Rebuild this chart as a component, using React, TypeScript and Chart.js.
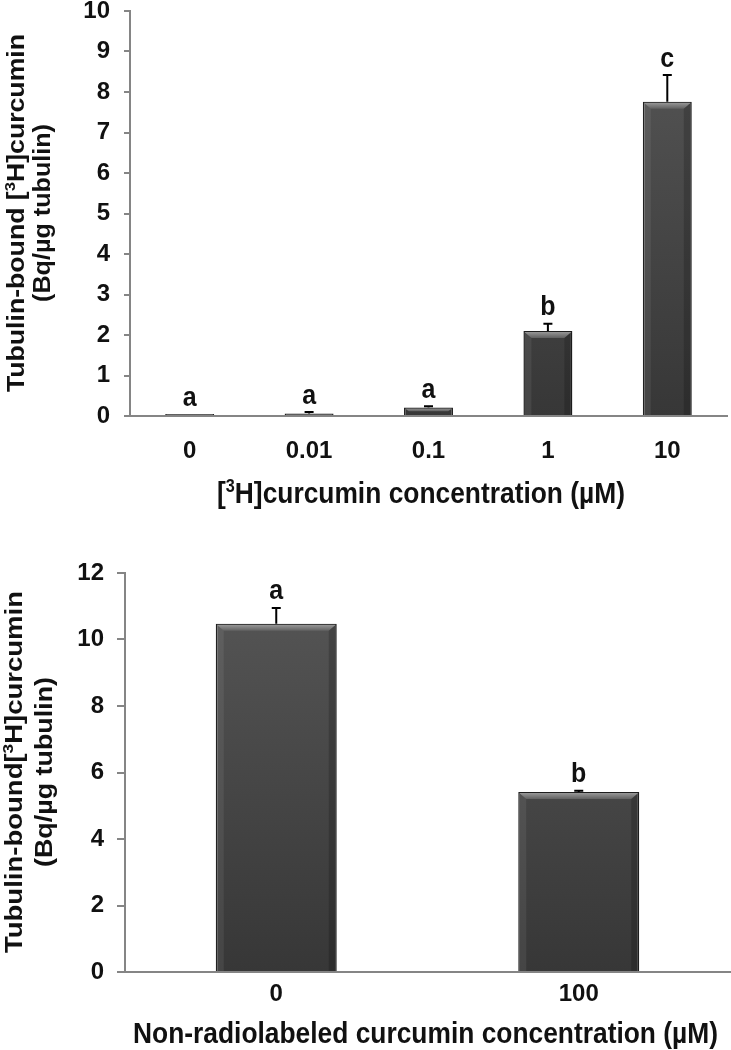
import React, { useEffect, useRef } from "react";
import { Chart, registerables } from "chart.js";

Chart.register(...registerables);

const FONT = "'Liberation Sans', Arial, Helvetica, sans-serif";
const AXIS = "#858585";
const INK = "#111111";

// ---------- Top panel data ----------
const topCategories = ["0", "0.01", "0.1", "1", "10"];
const topValues = [0.05, 0.06, 0.21, 2.1, 7.76];
const topErrors = [0, 0.04, 0.03, 0.18, 0.66];
const topLetters = ["a", "a", "a", "b", "c"];
const topYMin = 0;
const topYMax = 10;
const topYStep = 1;

// ---------- Bottom panel data ----------
const bottomCategories = ["0", "100"];
const bottomValues = [10.47, 5.41];
const bottomErrors = [0.48, 0.04];
const bottomLetters = ["a", "b"];
const bottomYMin = 0;
const bottomYMax = 12;
const bottomYStep = 2;

type Seg = { t: string; sup?: boolean };

const topYTitle1: Seg[] = [{ t: "Tubulin-bound [" }, { t: "3", sup: true }, { t: "H]curcumin" }];
const topYTitle2: Seg[] = [{ t: "(Bq/\u00b5g tubulin)" }];
const topXTitle: Seg[] = [{ t: "[" }, { t: "3", sup: true }, { t: "H]curcumin concentration (\u00b5M)" }];
const bottomYTitle1: Seg[] = [{ t: "Tubulin-bound[" }, { t: "3", sup: true }, { t: "H]curcumin" }];
const bottomYTitle2: Seg[] = [{ t: "(Bq/\u00b5g tubulin)" }];
const bottomXTitle: Seg[] = [{ t: "Non-radiolabeled curcumin concentration (\u00b5M)" }];

type Layout = {
  width: number;
  height: number;
  left: number;
  right: number;
  top: number;
  bottom: number;
  barPct: number;
  xTickPad: number;
  yTickPad: number;
  tickLen: number;
  yTitleX: [number, number];
  yTitleCY: number;
  yTitleLen: [number, number];
  yTitleSize: number;
  xTitleCX: number;
  xTitleY: number;
  xTitleLen: number;
  xTitleSize: number;
  xTitleTall: number;
};

function segFont(s: Seg, size: number) {
  return `bold ${s.sup ? Math.round(size * 0.62) : size}px ${FONT}`;
}

function richWidth(ctx: CanvasRenderingContext2D, segs: Seg[], size: number) {
  let w = 0;
  for (const s of segs) {
    ctx.font = segFont(s, size);
    w += ctx.measureText(s.t).width;
  }
  return w;
}

function drawTitle(
  ctx: CanvasRenderingContext2D,
  segs: Seg[],
  size: number,
  cx: number,
  cy: number,
  rotate: boolean,
  length: number,
  tall: number
) {
  ctx.save();
  ctx.translate(cx, cy);
  if (rotate) ctx.rotate(-Math.PI / 2);
  const w = richWidth(ctx, segs, size);
  ctx.scale(length / w, tall);
  ctx.textAlign = "left";
  ctx.textBaseline = "alphabetic";
  ctx.fillStyle = INK;
  let x = -w / 2;
  const base = size * 0.36;
  for (const s of segs) {
    ctx.font = segFont(s, size);
    ctx.fillText(s.t, x, s.sup ? base - size * 0.36 : base);
    x += ctx.measureText(s.t).width;
  }
  ctx.restore();
}

function makeDecor(
  errors: number[],
  letters: string[],
  L: Layout,
  yTitle: [Seg[], Seg[]],
  xTitle: Seg[]
) {
  return {
    id: "decor",
    afterDatasetsDraw(chart: any) {
      const ctx: CanvasRenderingContext2D = chart.ctx;
      const yScale = chart.scales.y;
      const values = chart.data.datasets[0].data as number[];
      const meta = chart.getDatasetMeta(0);
      meta.data.forEach((bar: any, i: number) => {
        const p = bar.getProps(["x", "y", "base", "width"], true);
        const left = p.x - p.width / 2;
        const right = p.x + p.width / 2;
        const top = p.y;
        const h = p.base - top;
        const d = Math.max(0.5, Math.min(7, h / 2));
        ctx.save();
        // top bevel
        const g = ctx.createLinearGradient(0, top, 0, top + d);
        g.addColorStop(0, "#a0a0a0");
        g.addColorStop(1, "#606060");
        ctx.fillStyle = g;
        ctx.beginPath();
        ctx.moveTo(left + 1, top + 1);
        ctx.lineTo(right - 1, top + 1);
        ctx.lineTo(right - 1 - d, top + d);
        ctx.lineTo(left + 1 + d, top + d);
        ctx.closePath();
        ctx.fill();
        if (h > 16) {
          // left bevel
          ctx.fillStyle = "rgba(255,255,255,0.07)";
          ctx.beginPath();
          ctx.moveTo(left + 1, top + 1);
          ctx.lineTo(left + 1 + d, top + d);
          ctx.lineTo(left + 1 + d, p.base);
          ctx.lineTo(left + 1, p.base);
          ctx.closePath();
          ctx.fill();
          // right bevel
          ctx.fillStyle = "rgba(0,0,0,0.18)";
          ctx.beginPath();
          ctx.moveTo(right - 1, top + 1);
          ctx.lineTo(right - 1 - d, top + d);
          ctx.lineTo(right - 1 - d, p.base);
          ctx.lineTo(right - 1, p.base);
          ctx.closePath();
          ctx.fill();
        }
        // error bar
        const errTop = yScale.getPixelForValue(values[i] + errors[i]);
        if (errors[i] > 0) {
          ctx.strokeStyle = "#000";
          ctx.lineWidth = 2;
          ctx.beginPath();
          ctx.moveTo(p.x, top);
          ctx.lineTo(p.x, errTop);
          ctx.moveTo(p.x - 4.5, errTop);
          ctx.lineTo(p.x + 4.5, errTop);
          ctx.stroke();
        }
        // significance letter
        ctx.fillStyle = INK;
        ctx.font = `bold 25px ${FONT}`;
        ctx.textAlign = "center";
        ctx.textBaseline = "middle";
        ctx.translate(p.x, errTop - 16);
        ctx.scale(1, 1.1);
        ctx.fillText(letters[i], 0, 0);
        ctx.restore();
      });
    },
    afterDraw(chart: any) {
      const ctx: CanvasRenderingContext2D = chart.ctx;
      drawTitle(ctx, yTitle[0], L.yTitleSize, L.yTitleX[0], L.yTitleCY, true, L.yTitleLen[0], 1);
      drawTitle(ctx, yTitle[1], L.yTitleSize, L.yTitleX[1], L.yTitleCY, true, L.yTitleLen[1], 1);
      drawTitle(ctx, xTitle, L.xTitleSize, L.xTitleCX, L.xTitleY, false, L.xTitleLen, L.xTitleTall);
    },
  };
}

type PanelProps = {
  categories: string[];
  values: number[];
  errors: number[];
  letters: string[];
  yMin: number;
  yMax: number;
  yStep: number;
  L: Layout;
  yTitle: [Seg[], Seg[]];
  xTitle: Seg[];
};

function BarPanel({ categories, values, errors, letters, yMin, yMax, yStep, L, yTitle, xTitle }: PanelProps) {
  const ref = useRef<HTMLCanvasElement | null>(null);
  useEffect(() => {
    if (!ref.current) return;
    const tickFont = { family: FONT, size: 24, weight: "bold" as const, lineHeight: 1.2 };
    const chart = new Chart(ref.current, {
      type: "bar",
      data: {
        labels: categories,
        datasets: [
          {
            data: values,
            backgroundColor: (c: any) => {
              const area = c.chart.chartArea;
              if (!area) return "#444";
              const g = c.chart.ctx.createLinearGradient(0, area.top, 0, area.bottom);
              g.addColorStop(0, "#575757");
              g.addColorStop(1, "#373737");
              return g;
            },
            borderColor: "#1e1e1e",
            borderWidth: 1.5,
            barPercentage: L.barPct,
            categoryPercentage: 1,
          },
        ],
      },
      options: {
        responsive: false,
        animation: false,
        devicePixelRatio: 1,
        layout: { padding: { left: 0, right: L.width - L.right, top: L.top, bottom: 0 } },
        plugins: { legend: { display: false }, tooltip: { enabled: false } },
        scales: {
          x: {
            grid: { display: false, drawTicks: false, tickLength: 0 },
            border: { display: true, color: AXIS, width: 2 },
            ticks: { color: INK, font: tickFont, padding: L.xTickPad, maxRotation: 0, autoSkip: false },
            afterFit: (s: any) => {
              s.height = L.height - L.bottom;
              s.paddingLeft = 0;
              s.paddingRight = 0;
            },
          },
          y: {
            min: yMin,
            max: yMax,
            ticks: {
              stepSize: yStep,
              color: INK,
              font: { ...tickFont, lineHeight: 0.9 },
              padding: L.yTickPad,
            },
            grid: {
              display: true,
              drawOnChartArea: false,
              drawTicks: true,
              tickLength: L.tickLen,
              color: AXIS,
              lineWidth: 2,
            },
            border: { display: true, color: AXIS, width: 2 },
            afterFit: (s: any) => {
              s.width = L.left;
              s.paddingTop = 0;
              s.paddingBottom = 0;
            },
          },
        },
      },
      plugins: [makeDecor(errors, letters, L, yTitle, xTitle)],
    } as any);
    return () => chart.destroy();
  }, []);
  return <canvas ref={ref} width={L.width} height={L.height} style={{ display: "block" }} />;
}

const topLayout: Layout = {
  width: 731,
  height: 525,
  left: 130,
  right: 727,
  top: 11,
  bottom: 416,
  barPct: 0.41,
  xTickPad: 21,
  yTickPad: 14,
  tickLen: 6,
  yTitleX: [15, 41],
  yTitleCY: 213,
  yTitleLen: [358, 178],
  yTitleSize: 24,
  xTitleCX: 421,
  xTitleY: 492,
  xTitleLen: 408,
  xTitleSize: 26,
  xTitleTall: 1.15,
};

const bottomLayout: Layout = {
  width: 731,
  height: 525,
  left: 125,
  right: 730,
  top: 48,
  bottom: 447,
  barPct: 0.4,
  xTickPad: 8,
  yTickPad: 13,
  tickLen: 8,
  yTitleX: [13, 43],
  yTitleCY: 247,
  yTitleLen: [362, 190],
  yTitleSize: 24,
  xTitleCX: 425.5,
  xTitleY: 507,
  xTitleLen: 585,
  xTitleSize: 26,
  xTitleTall: 1.15,
};

export default function App() {
  return (
    <div style={{ position: "absolute", left: 0, top: 0, width: 731, height: 1050, background: "#fff" }}>
      <BarPanel
        categories={topCategories}
        values={topValues}
        errors={topErrors}
        letters={topLetters}
        yMin={topYMin}
        yMax={topYMax}
        yStep={topYStep}
        L={topLayout}
        yTitle={[topYTitle1, topYTitle2]}
        xTitle={topXTitle}
      />
      <BarPanel
        categories={bottomCategories}
        values={bottomValues}
        errors={bottomErrors}
        letters={bottomLetters}
        yMin={bottomYMin}
        yMax={bottomYMax}
        yStep={bottomYStep}
        L={bottomLayout}
        yTitle={[bottomYTitle1, bottomYTitle2]}
        xTitle={bottomXTitle}
      />
    </div>
  );
}
